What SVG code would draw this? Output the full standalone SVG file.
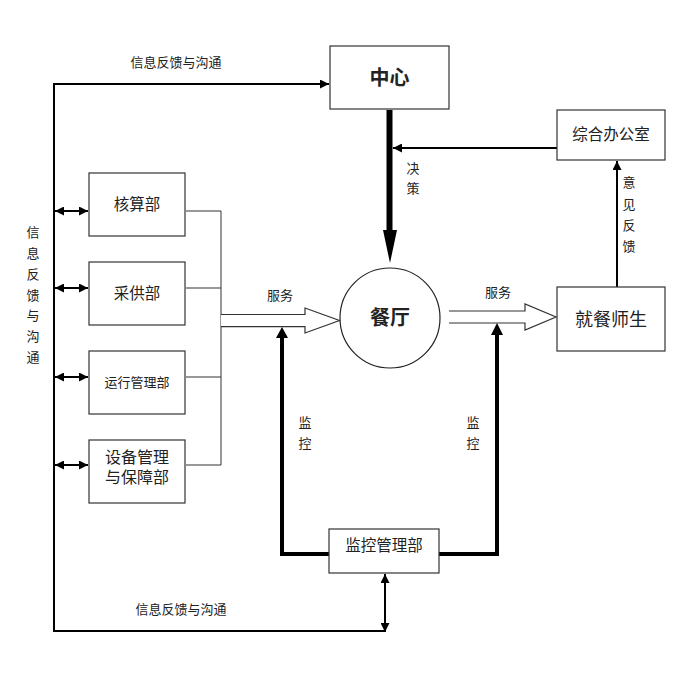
<svg xmlns="http://www.w3.org/2000/svg" width="683" height="675" viewBox="0 0 683 675">
<style>
text{font-family:"Liberation Sans","Noto Sans CJK SC",sans-serif;fill:#222;}
.box{fill:#fff;stroke:#333;stroke-width:1.2;}
.t13{font-size:13px;}
.t15{font-size:15.5px;}
.thin{fill:none;stroke:#000;stroke-width:2;}
.bus{fill:none;stroke:#333;stroke-width:1;}
.thick{fill:none;stroke:#000;stroke-width:4;}
.hollow{fill:#fff;stroke:#333;stroke-width:1.2;}
</style>
<defs>
<marker id="ahs" viewBox="0 0 10 10" refX="10" refY="5" markerWidth="10" markerHeight="9" orient="auto-start-reverse" markerUnits="userSpaceOnUse">
<path d="M0,0 L10,5 L0,10 Z" fill="#000"/>
</marker>
</defs>
<rect width="683" height="675" fill="#fff"/>
<g id="connectors">
<polyline class="thin" points="54,631 54,84 329,84" marker-end="url(#ahs)"/>
<line class="thin" x1="53" y1="631" x2="385" y2="631"/>
<line class="thin" x1="385" y1="574" x2="385" y2="632" marker-start="url(#ahs)" marker-end="url(#ahs)"/>
<line class="thin" x1="55" y1="211" x2="88" y2="211" marker-start="url(#ahs)" marker-end="url(#ahs)"/>
<line class="thin" x1="55" y1="288" x2="88" y2="288" marker-start="url(#ahs)" marker-end="url(#ahs)"/>
<line class="thin" x1="55" y1="377" x2="88" y2="377" marker-start="url(#ahs)" marker-end="url(#ahs)"/>
<line class="thin" x1="55" y1="465" x2="88" y2="465" marker-start="url(#ahs)" marker-end="url(#ahs)"/>
<polyline class="bus" points="186,211 221,211 221,465 186,465"/>
<line class="bus" x1="186" y1="288" x2="221" y2="288"/>
<line class="bus" x1="186" y1="377" x2="221" y2="377"/>
<path class="hollow" d="M221,314.5 L305,314.5 L305,308 L339.5,320.5 L305,333 L305,326.7 L221,326.7"/>
<path class="hollow" d="M449,311 L525,311 L525,304 L556,317 L525,330 L525,323 L449,323"/>
<line x1="389.5" y1="110" x2="389.5" y2="232" stroke="#000" stroke-width="6"/>
<path d="M383,230 L397,230 L390,263 Z" fill="#000"/>
<line class="thin" x1="557" y1="148" x2="393" y2="148" marker-end="url(#ahs)"/>
<line class="thin" x1="617" y1="288" x2="617" y2="161" marker-end="url(#ahs)"/>
<polyline class="thick" points="329,554 282,554 282,336"/>
<path d="M276,338 L288,338 L282,327 Z" fill="#000"/>
<polyline class="thick" points="439,554 497,554 497,333"/>
<path d="M491,335 L503,335 L497,323 Z" fill="#000"/>
</g>
<g id="center">
<rect class="box" x="330" y="46" width="119" height="63"/>
<text x="389.5" y="85" text-anchor="middle" font-size="20" font-weight="bold">中心</text>
</g>
<g id="office">
<rect class="box" x="557" y="110" width="108" height="50"/>
<text class="t15" x="611" y="140" text-anchor="middle">综合办公室</text>
</g>
<g id="restaurant">
<circle cx="390" cy="318" r="50" fill="#fff" stroke="#222" stroke-width="1.2"/>
<text x="390" y="325" text-anchor="middle" font-size="20" font-weight="bold">餐厅</text>
</g>
<g id="diners">
<rect class="box" x="557" y="287" width="108" height="64"/>
<text x="611" y="326" text-anchor="middle" font-size="18">就餐师生</text>
</g>
<g id="accounting">
<rect class="box" x="89" y="173" width="96" height="63"/>
<text class="t15" x="137" y="210" text-anchor="middle">核算部</text>
</g>
<g id="purchasing">
<rect class="box" x="89" y="262" width="96" height="63"/>
<text class="t15" x="137" y="299" text-anchor="middle">采供部</text>
</g>
<g id="operations">
<rect class="box" x="89" y="351" width="96" height="63"/>
<text class="t13" x="137" y="387" text-anchor="middle">运行管理部</text>
</g>
<g id="equipment">
<rect class="box" x="89" y="440" width="96" height="63"/>
<text x="137" y="463" text-anchor="middle" font-size="16">设备管理</text>
<text x="137" y="483" text-anchor="middle" font-size="16">与保障部</text>
</g>
<g id="monitor">
<rect class="box" x="329" y="529" width="110" height="44"/>
<text class="t15" x="384" y="551" text-anchor="middle">监控管理部</text>
</g>
<g id="labels">
<text class="t13" x="176" y="67" text-anchor="middle">信息反馈与沟通</text>
<text class="t13" x="181" y="614" text-anchor="middle">信息反馈与沟通</text>
<g class="t13" text-anchor="middle">
<text x="33" y="237">信</text>
<text x="33" y="258">息</text>
<text x="33" y="279">反</text>
<text x="33" y="300">馈</text>
<text x="33" y="320">与</text>
<text x="33" y="341">沟</text>
<text x="33" y="362">通</text>
<text x="413" y="173">决</text>
<text x="413" y="193">策</text>
<text x="629" y="187">意</text>
<text x="629" y="209">见</text>
<text x="629" y="230">反</text>
<text x="629" y="251">馈</text>
<text x="305" y="427">监</text>
<text x="305" y="448">控</text>
<text x="473" y="427">监</text>
<text x="473" y="448">控</text>
</g>
<text class="t13" x="280" y="300" text-anchor="middle">服务</text>
<text class="t13" x="498" y="297" text-anchor="middle">服务</text>
</g>
</svg>
